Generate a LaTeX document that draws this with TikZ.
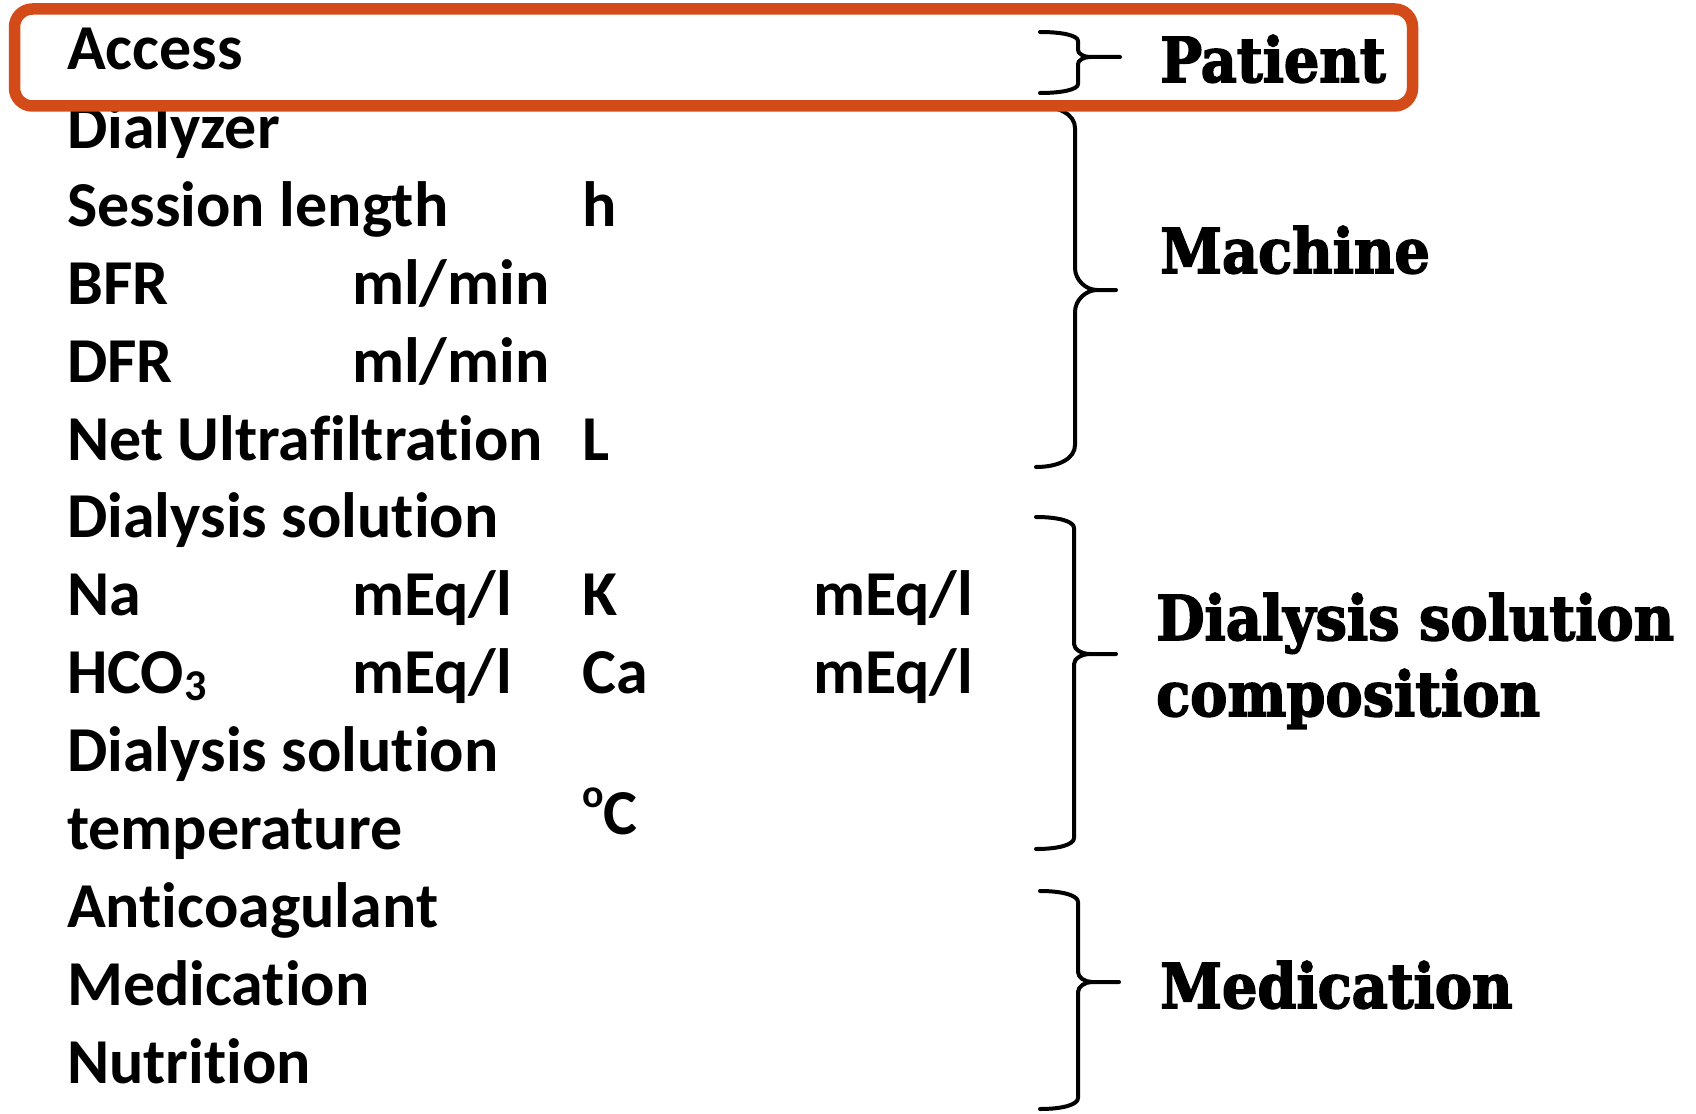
\documentclass[tikz,border=0pt]{standalone}
\usepackage{fontspec}
\newfontfamily\leftfont{Carlito}[Ligatures=NoCommon]
\newfontfamily\labelfont{DejaVu Serif}[FakeStretch=0.90,FakeBold=2.5]
\definecolor{boxorange}{RGB}{210,75,25}
\tikzset{
  lt/.style={anchor=base west, inner sep=0pt, font=\leftfont\bfseries\fontsize{64}{64}\selectfont},
  lab/.style={anchor=base west, inner sep=0pt, font=\labelfont\bfseries\fontsize{62}{62}\selectfont},
  bracestyle/.style={line width=4pt, line cap=round, line join=round},
  framestyle/.style={line width=11.5pt, draw=boxorange, rounded corners=18pt},
}
% xe, yt, yb, xv, xc, ym, r(end), r2(cusp), xs
\newcommand\mybrace[9]{%
  \draw[bracestyle] (#1,#2) .. controls ({#1+0.6*(#4-#1)},#2) and (#4,{#2+0.4*#7}) .. (#4,{#2+#7})
    -- (#4,{#6-#8}) .. controls (#4,{#6-0.45*#8}) and ({#4+0.5*(#9-#4)},#6) .. (#9,#6) -- (#5,#6)
    -- (#9,#6) .. controls ({#4+0.5*(#9-#4)},#6) and (#4,{#6+0.45*#8}) .. (#4,{#6+#8})
    -- (#4,{#3-#7}) .. controls (#4,{#3-0.4*#7}) and ({#1+0.6*(#4-#1)},#3) .. (#1,#3);}
\newcommand\subthree{\raisebox{-0.12em}{\fontsize{44}{44}\selectfont 3}}
\newcommand\degsign{\raisebox{0.42em}{\fontsize{40}{40}\selectfont o}}
\begin{document}
\begin{tikzpicture}[x=1pt,y=-1pt]
\useasboundingbox (0,0) rectangle (1696,1113);
% left column texts
\node[lt] (access)  at (67,70)    {Access};
\node[lt] (dialyzer) at (67,148)  {Dialyzer};
\node[lt] (session) at (67,226)   {Session length};
\node[lt] (sessu)   at (582,226)  {h};
\node[lt] (bfr)     at (67,304)   {BFR};
\node[lt] (bfru)    at (352,304)  {ml/min};
\node[lt] (dfr)     at (67,382)   {DFR};
\node[lt] (dfru)    at (352,382)  {ml/min};
\node[lt] (netuf)   at (67,460)   {Net Ultrafiltration};
\node[lt] (netufu)  at (582,460)  {L};
\node[lt] (dsol)    at (67,537)   {Dialysis solution};
\node[lt] (na)      at (67,615)   {Na};
\node[lt] (nau)     at (352,615)  {mEq/l};
\node[lt] (k)       at (582,615)  {K};
\node[lt] (ku)      at (813,615)  {mEq/l};
\node[lt] (hco)     at (67,693)   {HCO\subthree};
\node[lt] (hcou)    at (352,693)  {mEq/l};
\node[lt] (ca)      at (582,693)  {Ca};
\node[lt] (cau)     at (813,693)  {mEq/l};
\node[lt] (dsolt)   at (67,771)   {Dialysis solution};
\node[lt] (temp)    at (67,849)   {temperature};
\node[lt] (tempu)   at (582,834)  {\degsign C};
\node[lt] (anticoag) at (67,927)  {Anticoagulant};
\node[lt] (medic)   at (67,1005)  {Medication};
\node[lt] (nutr)    at (67,1083)  {Nutrition};
% braces
\mybrace{1040}{32}{93}{1078}{1120}{57}{9}{7}{1090}
\mybrace{1036}{106}{467}{1075}{1116}{290}{22}{22}{1097}
\mybrace{1036}{517}{849}{1074}{1116}{654}{11}{10}{1090}
\mybrace{1040}{891}{1109}{1078}{1119}{982}{11}{10}{1092}
% right labels
\node[lab] (patient) at (1160,82)   {Patient};
\node[lab] (machine) at (1160,273)  {Machine};
\node[lab] (dsc1)    at (1156,640)  {Dialysis solution};
\node[lab] (dsc2)    at (1156,716)  {composition};
\node[lab] (medlab)  at (1160,1008) {Medication};
% frame
\draw[framestyle] (14.5,9) rectangle (1412.5,106);
\end{tikzpicture}
\end{document}
